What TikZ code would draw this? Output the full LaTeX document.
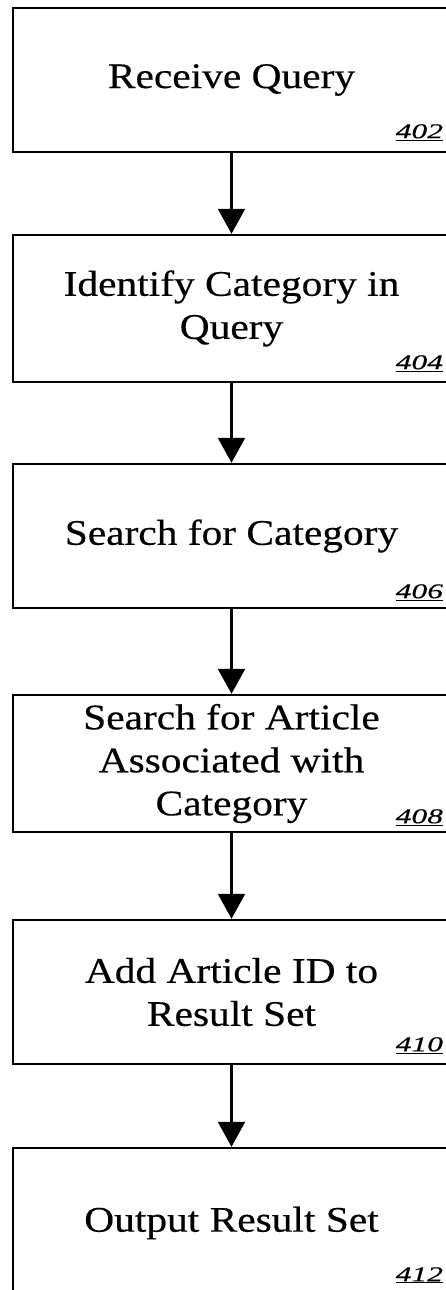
\documentclass[tikz,border=0pt]{standalone}
\usepackage{fontspec}
\setmainfont{Liberation Serif}[FakeStretch=1.15,FakeBold=0.4]
\newfontfamily\tagfont{Liberation Serif}[FakeStretch=1.5,FakeBold=0.4]
\usetikzlibrary{arrows.meta}

\tikzset{
  stepbox/.style={draw, line width=2.4pt, minimum width=437pt, inner sep=0pt,
    align=center, font=\fontsize{36}{43}\selectfont},
  numtag/.style={anchor=base east, inner sep=0pt, font=\tagfont\itshape\fontsize{21}{23}\selectfont},
  flowarrow/.style={line width=2.2pt, -{Triangle[width=27pt,length=25pt]}}
}

\begin{document}
\begin{tikzpicture}[x=1pt,y=1pt]
    % Page
    \useasboundingbox (0,0) rectangle (446,-1290);
    \clip (0,0) rectangle (446,-1290);
    % Steps
    \node[stepbox, minimum height=144pt] (recv) at (231.5,-80) {Receive Query};
    \node[stepbox, minimum height=147pt] (ident) at (231.5,-308.5) {Identify Category in\\Query};
    \node[stepbox, minimum height=144pt] (srchcat) at (231.5,-536) {Search for Category};
    \node[stepbox, minimum height=137pt] (srchart) at (231.5,-763.5) {Search for Article\\Associated with\\Category};
    \node[stepbox, minimum height=144pt] (addid) at (231.5,-992) {Add Article ID to\\Result Set};
    \node[stepbox, minimum height=150pt] (output) at (231.5,-1223) {Output Result Set};
    % Reference numerals
    \node[numtag] (t402) at ([shift={(-8,15)}]recv.south east) {\underline{402}};
    \node[numtag] (t404) at ([shift={(-8,14)}]ident.south east) {\underline{404}};
    \node[numtag] (t406) at ([shift={(-8,11)}]srchcat.south east) {\underline{406}};
    \node[numtag] (t408) at ([shift={(-8,10)}]srchart.south east) {\underline{408}};
    \node[numtag] (t410) at ([shift={(-8,14)}]addid.south east) {\underline{410}};
    \node[numtag] (t412) at ([shift={(-8,18)}]output.south east) {\underline{412}};
    % Flow
    \draw[flowarrow] (recv) -- (ident);
    \draw[flowarrow] (ident) -- (srchcat);
    \draw[flowarrow] (srchcat) -- (srchart);
    \draw[flowarrow] (srchart) -- (addid);
    \draw[flowarrow] (addid) -- (output);
\end{tikzpicture}
\end{document}
